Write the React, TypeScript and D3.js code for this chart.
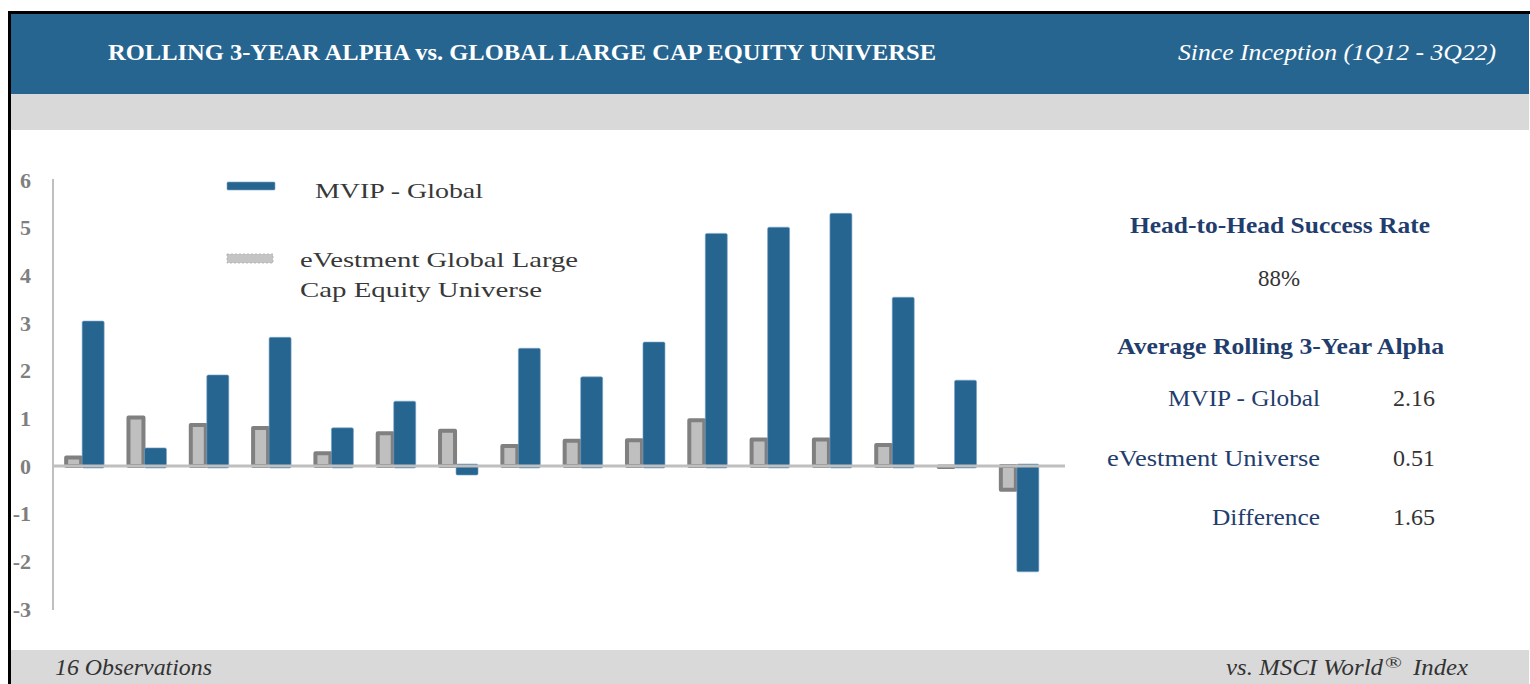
import React from 'react';
import * as d3 from 'd3';

// ---------- data ----------
const observations = ['1', '2', '3', '4', '5', '6', '7', '8', '9', '10', '11', '12', '13', '14', '15', '16'];
const mvipGlobal = [3.04, 0.38, 1.91, 2.70, 0.80, 1.36, -0.19, 2.47, 1.87, 2.60, 4.88, 5.01, 5.30, 3.54, 1.80, -2.22];
const eVestmentUniverse = [0.22, 1.06, 0.90, 0.84, 0.31, 0.73, 0.78, 0.46, 0.57, 0.58, 1.00, 0.60, 0.60, 0.48, 0.03, -0.54];
const yTicks = [6, 5, 4, 3, 2, 1, 0, -1, -2, -3];
const seriesNames = ['MVIP - Global', 'eVestment Global Large', 'Cap Equity Universe'];
const statLabels = ['MVIP - Global', 'eVestment Universe', 'Difference'];
const statValues = ['2.16', '0.51', '1.65'];
const successRate = '88%';

const BLUE = '#276591';
const NAVY = '#1f3d6d';
const GRAY_BAND = '#d9d9d9';

const T = (p: any) => {
  const { len, children, ...rest } = p;
  return (
    <text
      fontFamily="'Liberation Serif', 'Times New Roman', serif"
      textLength={len}
      lengthAdjust={len ? 'spacingAndGlyphs' : undefined}
      {...rest}
    >
      {children}
    </text>
  );
};

export default function App() {
  const W = 1530;
  const H = 684;
  const x = d3.scaleBand().domain(observations).range([53, 1050]).padding(0);
  const y = d3.scaleLinear().domain([-3, 6]).range([609, 180]);
  const y0 = y(0);

  return (
    <svg width={W} height={H} style={{ position: 'absolute', left: 0, top: 0, display: 'block', background: '#fff' }}>
      {/* frame and bands */}
      <rect x={11} y={14} width={1518} height={80} fill={BLUE} />
      <rect x={11} y={94} width={1518} height={36} fill={GRAY_BAND} />
      <rect x={11} y={650} width={1518} height={34} fill={GRAY_BAND} />
      <rect x={8} y={11} width={3} height={673} fill="#000" />
      <rect x={8} y={11} width={1522} height={3} fill="#000" />

      <T x={108} y={60} fontSize={23} fontWeight="bold" fill="#fff" len={828}>
        ROLLING 3-YEAR ALPHA vs. GLOBAL LARGE CAP EQUITY UNIVERSE
      </T>
      <T x={1178} y={60} fontSize={23} fontStyle="italic" fill="#fff" len={318}>
        Since Inception (1Q12 - 3Q22)
      </T>

      {/* y axis */}
      <line x1={53} x2={53} y1={179} y2={610} stroke="#bfbfbf" strokeWidth={2} />
      {yTicks.map((t) => (
        <T key={t} x={31} y={y(t) + 7.5} fontSize={22} fontWeight="bold" fill="#7f7f7f" textAnchor="end">
          {t}
        </T>
      ))}

      {/* gray bars */}
      {observations.map((c, i) => {
        const v = eVestmentUniverse[i];
        const cx = (x(c) as number) + x.bandwidth() / 2;
        const top = v >= 0 ? y(v) : y0 - 2;
        const bot = v >= 0 ? y0 + 2 : y(v);
        return (
          <rect
            key={'g' + c}
            x={cx - 20 + 2}
            y={top + 2}
            width={19 - 4}
            height={Math.max(0.5, bot - top - 4)}
            fill="#bfbfbf"
            stroke="#808080"
            strokeWidth={4}
            strokeLinejoin="round"
          />
        );
      })}
      {/* blue bars */}
      {observations.map((c, i) => {
        const v = mvipGlobal[i];
        const cx = (x(c) as number) + x.bandwidth() / 2;
        const top = v >= 0 ? y(v) : y0 - 2;
        const bot = v >= 0 ? y0 + 2 : y(v);
        return (
          <rect
            key={'b' + c}
            x={cx - 2}
            y={top}
            width={22}
            height={bot - top}
            rx={1.5}
            fill={BLUE}
            stroke="#7aa3c6"
            strokeWidth={0.6}
          />
        );
      })}
      <line x1={53} x2={1065} y1={y0} y2={y0} stroke="#bfbfbf" strokeWidth={3} />

      {/* legend */}
      <rect x={227} y={182} width={48} height={8} rx={1} fill={BLUE} stroke="#7aa3c6" strokeWidth={0.6} />
      <rect x={227} y={254} width={46} height={9} fill="#c4c4c4" stroke="#b0b0b0" strokeWidth={0.8} strokeDasharray="2 2" />
      <T x={315} y={198} fontSize={21} fill="#383838" len={168}>{seriesNames[0]}</T>
      <T x={300} y={267} fontSize={21} fill="#383838" len={278}>{seriesNames[1]}</T>
      <T x={300} y={297} fontSize={21} fill="#383838" len={242}>{seriesNames[2]}</T>

      {/* right panel */}
      <T x={1130} y={233} fontSize={23} fontWeight="bold" fill={NAVY} len={300}>Head-to-Head Success Rate</T>
      <T x={1258} y={286} fontSize={23} fill="#333" len={42}>{successRate}</T>
      <T x={1117} y={354} fontSize={23} fontWeight="bold" fill={NAVY} len={327}>Average Rolling 3-Year Alpha</T>
      <T x={1168} y={406} fontSize={23} fill={NAVY} len={152}>{statLabels[0]}</T>
      <T x={1107} y={466} fontSize={23} fill={NAVY} len={213}>{statLabels[1]}</T>
      <T x={1212} y={525} fontSize={23} fill={NAVY} len={108}>{statLabels[2]}</T>
      {statValues.map((v, i) => (
        <T key={v} x={1393} y={[406, 466, 525][i]} fontSize={23} fill="#333" len={42}>{v}</T>
      ))}

      {/* footer */}
      <T x={55} y={675} fontSize={23} fontStyle="italic" fill="#333" len={157}>16 Observations</T>
      <T x={1226} y={675} fontSize={23} fontStyle="italic" fill="#333" len={157}>vs. MSCI World</T>
      <T x={1385} y={668} fontSize={15} fill="#333" len={17}>®</T>
      <T x={1413} y={675} fontSize={23} fontStyle="italic" fill="#333" len={55}>Index</T>
    </svg>
  );
}
